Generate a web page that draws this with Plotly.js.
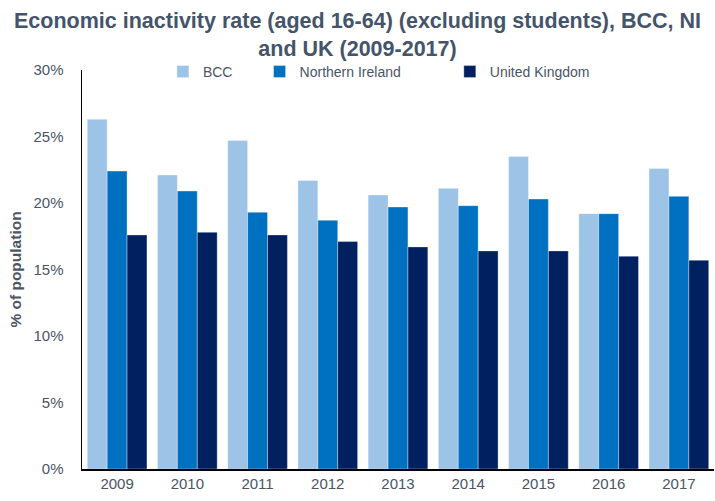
<!DOCTYPE html>
<html><head><meta charset="utf-8">
<script src="https://cdn.plot.ly/plotly-3.0.1.min.js"></script>
<style>html,body{margin:0;padding:0;background:#fff}#c{width:715px;height:501px}</style>
</head><body><div id="c"></div>
<script>
const years = ["2009","2010","2011","2012","2013","2014","2015","2016","2017"];
const bcc = [26.3, 22.1, 24.7, 21.7, 20.6, 21.1, 23.5, 19.2, 22.6];
const ni  = [22.4, 20.9, 19.3, 18.7, 19.7, 19.8, 20.3, 19.2, 20.5];
const uk  = [17.6, 17.8, 17.6, 17.1, 16.7, 16.4, 16.4, 16.0, 15.7];
const seriesNames = ["BCC", "Northern Ireland", "United Kingdom"];
const colors = ["#9DC3E6", "#0070C0", "#002060"];
const tickVals = [0, 5, 10, 15, 20, 25, 30];
const tickText = ["0%", "5%", "10%", "15%", "20%", "25%", "30%"];

const data = [bcc, ni, uk].map((v, i) => ({
  type: "bar", x: years, y: v, name: seriesNames[i],
  marker: {color: colors[i], line: {color: "rgba(255,255,255,0.35)", width: 1}},
  legend: i === 0 ? "legend" : ("legend" + (i + 1)),
  hoverinfo: "skip"
}));

const txtCol = "#4B5565";
const legFont = {family: "Liberation Sans, Arial, sans-serif", size: 14, color: txtCol};
const legBase = {orientation: "h", yanchor: "middle", y: 0.995, xanchor: "left", bgcolor: "rgba(0,0,0,0)", font: legFont, itemwidth: 30};

const layout = {
  width: 715, height: 501,
  margin: {l: 82, r: 1, t: 70, b: 32},
  paper_bgcolor: "#fff", plot_bgcolor: "#fff",
  title: {
    text: "Economic inactivity rate (aged 16-64) (excluding students), BCC, NI<br>and UK (2009-2017)",
    font: {family: "Liberation Sans, Arial, sans-serif", size: 21.5, color: "#44546A", weight: "bold"},
    x: 0.5, xanchor: "center", y: 0.945, yanchor: "top", yref: "container"
  },
  barmode: "group", bargap: 0.15, bargroupgap: 0,
  xaxis: {
    type: "category", showline: true, linecolor: "#000", linewidth: 1.5, ticks: "",
    tickfont: {family: "Liberation Sans, Arial, sans-serif", size: 15, color: txtCol},
    showgrid: false, fixedrange: true
  },
  yaxis: {
    range: [0, 30], tickvals: tickVals, ticktext: tickText,
    showline: true, linecolor: "#000", linewidth: 1.5, ticks: "", showgrid: false, zeroline: false,
    tickfont: {family: "Liberation Sans, Arial, sans-serif", size: 15, color: txtCol},
    ticklabelstandoff: 14,
    title: {text: "% of population", font: {family: "Liberation Sans, Arial, sans-serif", size: 15.5, color: txtCol, weight: "bold"}, standoff: 8}
  },
  legend: Object.assign({}, legBase, {x: 0.128}),
  legend2: Object.assign({}, legBase, {x: 0.281}),
  legend3: Object.assign({}, legBase, {x: 0.582}),
  showlegend: true
};
Plotly.newPlot("c", data, layout, {staticPlot: true, displayModeBar: false});
</script></body></html>
